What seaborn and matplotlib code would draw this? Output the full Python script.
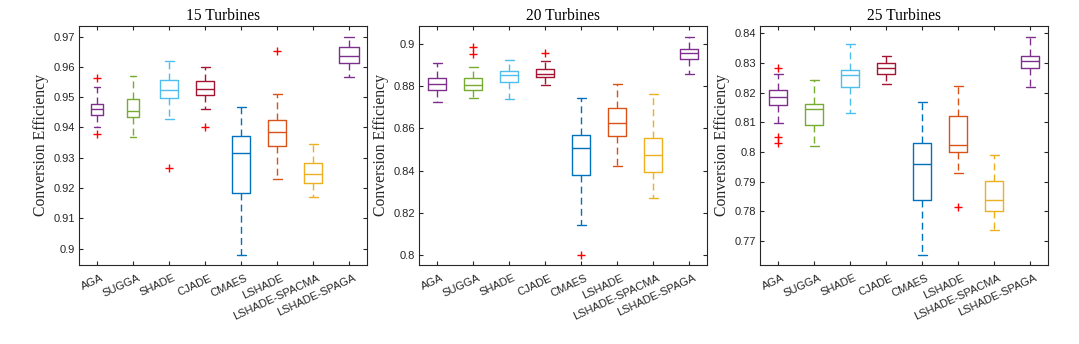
import numpy as np
import pandas as pd
import matplotlib
matplotlib.use("Agg")
import matplotlib.pyplot as plt
import matplotlib.transforms as mtransforms
import seaborn as sns
from matplotlib.ticker import FormatStrFormatter

algorithms = ["AGA", "SUGGA", "SHADE", "CJADE", "CMAES", "LSHADE",
              "LSHADE-SPACMA", "LSHADE-SPAGA"]
colors = ["#7E2F8E", "#77AC30", "#4DBEEE", "#A2142F", "#0072BD",
          "#D95319", "#EDB120", "#7E2F8E"]
titles = ["15 Turbines", "20 Turbines", "25 Turbines"]

# 15 turbines: lower whisker, Q1, median, Q3, upper whisker
t15_lo = [0.9401, 0.9370, 0.9427, 0.9461, 0.8980, 0.9231, 0.9171, 0.9567]
t15_q1 = [0.9440, 0.9433, 0.9496, 0.9507, 0.9184, 0.9340, 0.9217, 0.9614]
t15_md = [0.9460, 0.9453, 0.9524, 0.9527, 0.9317, 0.9385, 0.9245, 0.9635]
t15_q3 = [0.9478, 0.9493, 0.9556, 0.9553, 0.9373, 0.9424, 0.9284, 0.9666]
t15_hi = [0.9532, 0.9569, 0.9621, 0.9599, 0.9469, 0.9510, 0.9344, 0.9699]
t15_out_alg = ["AGA", "AGA", "SHADE", "CJADE", "LSHADE"]
t15_out_val = [0.9562, 0.9378, 0.9267, 0.9400, 0.9654]

# 20 turbines
t20_lo = [0.8724, 0.8743, 0.8739, 0.8808, 0.8139, 0.8420, 0.8269, 0.8859]
t20_q1 = [0.8783, 0.8781, 0.8819, 0.8843, 0.8379, 0.8564, 0.8393, 0.8929]
t20_md = [0.8810, 0.8808, 0.8856, 0.8861, 0.8507, 0.8624, 0.8472, 0.8960]
t20_q3 = [0.8842, 0.8840, 0.8875, 0.8881, 0.8571, 0.8697, 0.8553, 0.8979]
t20_hi = [0.8913, 0.8891, 0.8926, 0.8922, 0.8746, 0.8813, 0.8762, 0.9035]
t20_out_alg = ["SUGGA", "SUGGA", "CJADE", "CMAES"]
t20_out_val = [0.8985, 0.8955, 0.8957, 0.8000]

# 25 turbines
t25_lo = [0.8098, 0.8020, 0.8131, 0.8228, 0.7653, 0.7930, 0.7737, 0.8220]
t25_q1 = [0.8160, 0.8092, 0.8218, 0.8262, 0.7837, 0.7999, 0.7801, 0.8282]
t25_md = [0.8187, 0.8145, 0.8261, 0.8282, 0.7958, 0.8025, 0.7837, 0.8308]
t25_q3 = [0.8208, 0.8161, 0.8278, 0.8301, 0.8030, 0.8122, 0.7903, 0.8325]
t25_hi = [0.8263, 0.8242, 0.8365, 0.8324, 0.8170, 0.8221, 0.7989, 0.8388]
t25_out_alg = ["AGA", "AGA", "AGA", "LSHADE"]
t25_out_val = [0.8282, 0.8052, 0.8029, 0.7816]

ylims = [(0.8946, 0.9735), (0.7951, 0.9087), (0.7619, 0.8425)]
yticks = [np.arange(0.90, 0.9701, 0.01), np.arange(0.80, 0.9001, 0.02),
          np.arange(0.77, 0.8401, 0.01)]
# styling: box width per algorithm in each panel (first panel has two narrow boxes)
box_widths = [
    [0.33, 0.35, 0.5, 0.5, 0.5, 0.5, 0.5, 0.55],
    [0.5] * 8,
    [0.5] * 8,
]

panels = [
    (t15_lo, t15_q1, t15_md, t15_q3, t15_hi, t15_out_alg, t15_out_val),
    (t20_lo, t20_q1, t20_md, t20_q3, t20_hi, t20_out_alg, t20_out_val),
    (t25_lo, t25_q1, t25_md, t25_q3, t25_hi, t25_out_alg, t25_out_val),
]

sns.set_style("ticks")
plt.rcParams["font.family"] = ["Liberation Sans", "DejaVu Sans"]
ink = "#262626"

fig = plt.figure(figsize=(10.79, 3.44), dpi=100)
lefts = [79, 419, 760]
W, H = 1079, 344

for i, (lo, q1, md, q3, hi, oa, ov) in enumerate(panels):
    ax = fig.add_axes([lefts[i] / W, 1 - 265 / H, 288 / W, 239 / H])
    rows = []
    for a, *vals in zip(algorithms, lo, q1, md, q3, hi):
        for v in vals:
            rows.append((a, v))
    df = pd.DataFrame(rows, columns=["alg", "eff"])
    for w in sorted(set(box_widths[i])):
        sel = [a for a, bw in zip(algorithms, box_widths[i]) if bw == w]
        sub = df[df["alg"].isin(sel)]
        sns.boxplot(data=sub, x="alg", y="eff", hue="alg", order=algorithms,
                    hue_order=algorithms, palette=colors, fill=False,
                    whis=(0, 100), showfliers=False, width=w, linewidth=1.0,
                    legend=False, ax=ax, dodge=False,
                    whiskerprops=dict(linestyle=(0, (5, 3))))
    ax.scatter([algorithms.index(a) for a in oa], ov,
               marker="+", color="red", s=32, linewidths=1.0, zorder=5)
    ax.set_xlim(-0.5, 7.5)
    ax.set_ylim(*ylims[i])
    ax.set_yticks(yticks[i])
    ax.yaxis.set_major_formatter(FormatStrFormatter("%g"))
    ax.set_xticks(range(len(algorithms)))
    ax.set_xticklabels(algorithms, rotation=25, ha="right",
                       rotation_mode="anchor", va="center")
    ax.tick_params(direction="in", length=3, width=0.8, top=True, right=True,
                   labelsize=8, color=ink, labelcolor=ink, pad=3)
    ax.tick_params(axis="x", pad=9)
    shift = mtransforms.ScaledTranslation(4.5 / 72, 0, fig.dpi_scale_trans)
    for lbl in ax.get_xticklabels():
        lbl.set_transform(lbl.get_transform() + shift)
    for s in ax.spines.values():
        s.set_color(ink)
        s.set_linewidth(0.8)
    ax.set_xlabel("")
    ax.set_ylabel("Conversion Efficiency", family="Liberation Serif",
                  fontsize=11.3, color=ink, labelpad=3)
    ax.set_title(titles[i], family="Liberation Serif", fontsize=11.2,
                 color="black", pad=4)

fig.savefig("out.png", dpi=100)
